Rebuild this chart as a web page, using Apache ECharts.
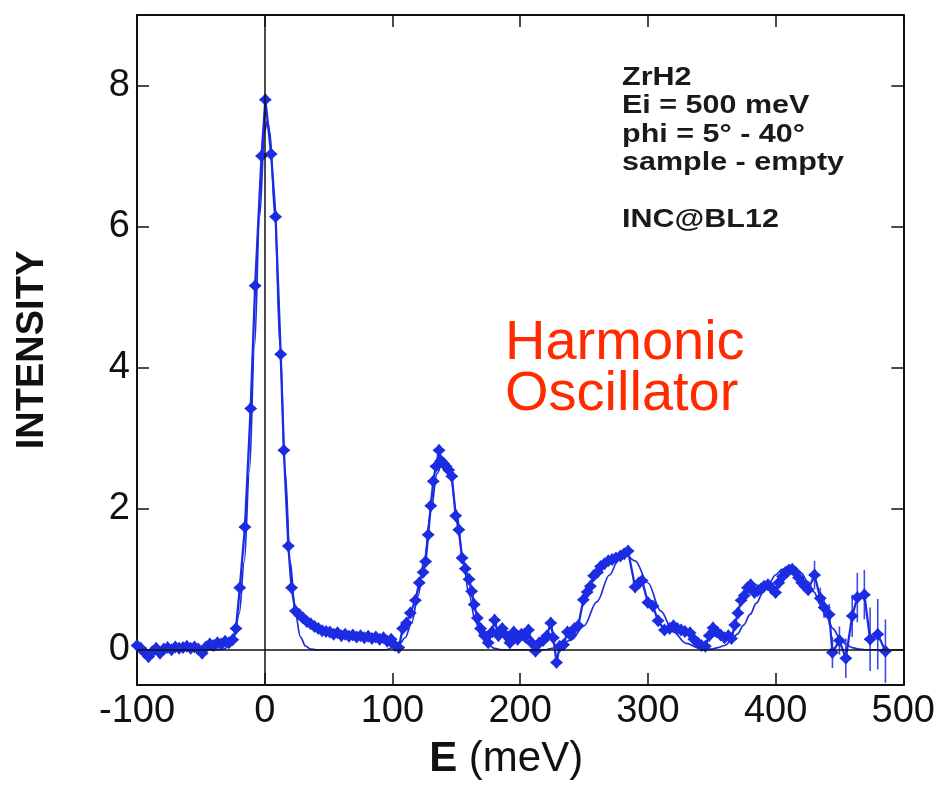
<!DOCTYPE html>
<html>
<head>
<meta charset="utf-8">
<script src="https://cdn.jsdelivr.net/npm/echarts@6/dist/echarts.min.js"></script>
<style>
  html, body { margin: 0; padding: 0; background: #ffffff; }
  #chart { width: 938px; height: 785px; }
</style>
</head>
<body>
<div id="chart"></div>
<script>
// Axis ticks
const energyTicks = [-100, 0, 100, 200, 300, 400, 500];
const intensityTicks = [0, 2, 4, 6, 8];

// Measured spectrum (sample - empty): [E (meV), intensity]
const measured = [
  [-100,0.06],[-97,0.02],[-94,-0.04],[-91,-0.1],[-88,-0.03],[-85,0.02],[-82,-0.05],[-79,0.01],
  [-76,0.03],[-73,0.0],[-70,0.04],[-67,0.02],[-64,0.03],[-61,0.05],[-58,0.02],[-55,0.04],
  [-52,0.01],[-49,-0.05],[-46,0.04],[-43,0.08],[-40,0.06],[-37,0.1],[-34,0.08],[-31,0.12],
  [-28,0.1],[-25,0.14],
  [-22.5,0.3],[-19.5,0.88],[-15.5,1.74],[-11,3.42],[-7.5,5.16],[-2.5,7.0],[0.5,7.8],[5,7.03],
  [8.5,6.14],[12.5,4.19],[15,2.83],[18.5,1.47],[21,0.88],[24,0.55],
  [27,0.5],[30,0.45],[33,0.4],[36,0.37],[39,0.33],[42,0.3],[45,0.27],[48,0.26],[51,0.25],
  [54,0.22],[57,0.24],[60,0.2],[63,0.22],[66,0.19],[69,0.21],[72,0.18],[75,0.2],[78,0.17],
  [81,0.19],[84,0.16],[87,0.18],[90,0.15],[93,0.17],[96,0.12],[99,0.15],[102,0.06],[105,0.03],
  [108,0.3],[111,0.38],[114,0.52],[118,0.7],[121,0.95],[124,1.1],[126,1.25],[128,1.63],
  [130,2.04],[132,2.39],[134,2.6],[136.5,2.83],[138,2.68],[140,2.64],[142,2.6],[144,2.55],
  [146.5,2.46],[149.5,1.9],[152,1.7],[154.5,1.3],[157,1.15],[160,1.0],[162,0.83],[164,0.64],
  [166.5,0.45],[169,0.3],[172,0.2],[175,0.1],[178,0.25],[180,0.42],[183,0.2],[186,0.3],
  [189,0.2],[192,0.1],[195,0.25],[198,0.15],
  [201,0.22],[204,0.18],[206.5,0.28],[209,0.1],[212,-0.02],[215,0.1],[218,0.13],[221,0.2],
  [224,0.38],[226,0.17],[228.5,-0.18],[231,0.05],[234,0.07],[237,0.25],[239.5,0.21],[242.5,0.3],
  [245.5,0.34],[249.5,0.71],[252.5,0.82],[255,0.9],[257.5,1.05],[260.5,1.1],[263,1.18],[266,1.22],
  [269,1.26],[272,1.28],[275,1.3],[278.5,1.33],[281.5,1.36],[284.5,1.4],[290,0.89],[293,0.95],
  [295.5,0.98],[300,0.67],[304,0.62],[308,0.41],[313,0.28],[317,0.3],[320,0.34],[323,0.3],
  [326,0.28],[329,0.26],[333,0.24],[336,0.15],[339,0.1],[342,0.06],[345,0.05],[348,0.2],
  [351,0.31],[354,0.25],[357,0.21],[360,0.17],[363,0.2],[365.5,0.16],[368,0.35],[370.5,0.52],
  [373,0.7],[375.5,0.77],[378,0.88],[380.5,0.92],[383.5,0.81],[386,0.84],[388.5,0.86],[391,0.9],
  [394,0.92],[397,0.87],[400,0.81],[402.5,0.95],[405.5,1.04],[408,1.1],[410.5,1.13],[413,1.14],
  [415.5,1.1],[418,1.02],[420.5,0.95],[423,0.9],[425.5,0.85],[430.5,1.06],[435,0.73],[438,0.6],
  [442,0.5],[444.5,-0.04],[450,0.13],[455,-0.12],[460,0.48],[464,0.74],[469.5,0.78],[474,0.15],
  [480,0.22],[486,-0.02]
];

// Statistical error (half-length) at the high-energy points: [E, error]
const errors = [
  [430.5,0.2],[435,0.15],[438,0.15],[442,0.15],[444.5,0.22],[450,0.2],[455,0.28],
  [460,0.3],[464,0.35],[469.5,0.35],[474,0.45],[480,0.5],[486,0.45]
];

// Harmonic-oscillator model curve: [E, intensity]
const model = [
  [-100,0],[-40,0],[-32,0.01],[-28,0.05],[-24,0.18],[-20,0.51],[-16,1.25],[-12,2.53],[-8,4.3],
  [-4,6.14],[0,7.35],[2,7.5],[4,7.35],[8,6.14],[12,4.3],[16,2.53],[20,1.25],[24,0.51],[28,0.18],
  [32,0.05],[36,0.01],[40,0],[95,0],[100,0.03],[105,0.07],[110,0.17],[115,0.38],[120,0.76],
  [125,1.3],[130,1.96],[135,2.5],[140,2.72],[145,2.52],[150,1.98],[155,1.32],[160,0.78],
  [165,0.4],[170,0.17],[175,0.07],[180,0.02],[185,0],[220,0],[225,0.02],[230,0.05],[240,0.14],
  [250,0.34],[260,0.68],[270,1.06],[277,1.28],[283,1.34],[290,1.26],[300,0.95],[310,0.55],
  [320,0.25],[330,0.09],[340,0.025],[350,0.01],[355,0.03],[360,0.06],[365,0.12],[370,0.22],
  [375,0.35],[380,0.5],[385,0.66],[390,0.81],[395,0.95],[400,1.06],[405,1.14],[410,1.18],
  [415,1.16],[420,1.09],[425,0.97],[430,0.82],[435,0.64],[440,0.46],[445,0.3],[450,0.17],
  [455,0.08],[460,0.03],[465,0.01],[470,0],[490,0]
];

const infoLines = ['ZrH2', 'Ei = 500 meV', 'phi = 5\u00b0 - 40\u00b0', 'sample - empty', '', 'INC@BL12'];
const noteLines = ['Harmonic', 'Oscillator'];

const BLUE = '#1b2ce2';
const FONT = '"Liberation Sans", Arial, Helvetica, sans-serif';

// Attach the error of each high-energy point to its measured value
const errorData = errors.map(([e, d]) => {
  const pt = measured.find(p => p[0] === e);
  return [e, pt[1], d];
});

// Four-pointed star marker
const starPath = 'path://M0,-10 L4.6,-4.6 L10,0 L4.6,4.6 L0,10 L-4.6,4.6 L-10,0 L-4.6,-4.6 Z';

const chart = echarts.init(document.getElementById('chart'), null, { renderer: 'canvas' });

const frameLine = { color: '#111', width: 2 };
const tickLine = { color: '#111', width: 1.5 };

chart.setOption({
  animation: false,
  backgroundColor: '#ffffff',
  grid: { left: 137, right: 33, top: 15, bottom: 98, containLabel: false },
  xAxis: [
    {
      type: 'value', position: 'bottom',
      min: energyTicks[0], max: energyTicks[energyTicks.length - 1], interval: 100,
      axisLine: { show: true, onZero: false, lineStyle: frameLine },
      axisTick: { show: true, inside: true, length: 12, lineStyle: tickLine },
      axisLabel: { show: true, margin: 8, color: '#111', fontFamily: FONT, fontSize: 38 },
      splitLine: { show: false },
      name: '{b|E} (meV)',
      nameLocation: 'middle', nameGap: 53,
      nameTextStyle: {
        color: '#111', fontFamily: FONT, fontSize: 42, padding: [0, 28, 0, 0],
        rich: { b: { fontFamily: FONT, fontSize: 42, fontWeight: 'bold', color: '#111' } }
      }
    },
    {
      type: 'value', position: 'top',
      min: energyTicks[0], max: energyTicks[energyTicks.length - 1], interval: 100,
      axisLine: { show: true, onZero: false, lineStyle: frameLine },
      axisTick: { show: true, inside: true, length: 12, lineStyle: tickLine },
      axisLabel: { show: false },
      splitLine: { show: false }
    }
  ],
  yAxis: [
    {
      type: 'value', position: 'left',
      min: -0.5, max: 9,
      axisLine: { show: true, onZero: false, lineStyle: frameLine },
      axisTick: { show: true, inside: true, length: 12, customValues: intensityTicks, lineStyle: tickLine },
      axisLabel: { show: true, margin: 7, color: '#111', fontFamily: FONT, fontSize: 38,
        customValues: intensityTicks },
      splitLine: { show: false },
      name: 'INTENSITY',
      nameLocation: 'middle', nameGap: 85,
      nameTextStyle: { color: '#111', fontFamily: FONT, fontSize: 38, fontWeight: 'bold' }
    },
    {
      type: 'value', position: 'right',
      min: -0.5, max: 9,
      axisLine: { show: true, onZero: false, lineStyle: frameLine },
      axisTick: { show: true, inside: true, length: 12, customValues: intensityTicks, lineStyle: tickLine },
      axisLabel: { show: false },
      splitLine: { show: false }
    }
  ],
  series: [
    {
      name: 'model',
      type: 'line',
      data: model,
      showSymbol: false,
      smooth: 0.35,
      smoothMonotone: 'x',
      lineStyle: { color: BLUE, width: 1.7 },
      z: 2,
      markLine: {
        silent: true,
        symbol: 'none',
        label: { show: false },
        lineStyle: { color: '#111', width: 1.5, type: 'solid' },
        data: [{ yAxis: 0 }, { xAxis: 0 }]
      }
    },
    {
      name: 'error',
      type: 'custom',
      data: errorData,
      encode: { x: 0, y: 1 },
      z: 3,
      renderItem: function (params, api) {
        const e = api.value(0), v = api.value(1), d = api.value(2);
        const lo = api.coord([e, v - d]);
        const hi = api.coord([e, v + d]);
        return {
          type: 'line',
          shape: { x1: lo[0], y1: lo[1], x2: hi[0], y2: hi[1] },
          style: { stroke: '#3b4ce8', lineWidth: 1.6 }
        };
      }
    },
    {
      name: 'measured',
      type: 'line',
      data: measured,
      symbol: starPath,
      symbolSize: 13,
      itemStyle: { color: BLUE },
      lineStyle: { color: BLUE, width: 2.3 },
      z: 4
    }
  ],
  graphic: [
    {
      type: 'text',
      left: 622, top: 64,
      scaleX: 1.22,
      style: {
        text: infoLines.join('\n'),
        fill: '#1a1a1a',
        font: 'bold 25px ' + FONT,
        lineHeight: 28.3
      }
    },
    {
      type: 'text',
      left: 505, top: 316,
      style: {
        text: noteLines.join('\n'),
        fill: '#ff2a00',
        font: '56px ' + FONT,
        lineHeight: 51
      }
    }
  ]
});
</script>
</body>
</html>
